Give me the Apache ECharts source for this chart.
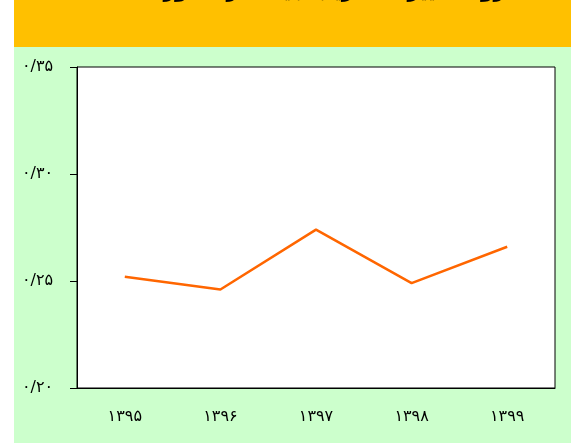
<!DOCTYPE html>
<html>
<head>
<meta charset="utf-8">
<script src="https://cdn.jsdelivr.net/npm/echarts@6/dist/echarts.min.js"></script>
<style>
  html, body { margin: 0; padding: 0; background: #fff; }
  #chart { width: 571px; height: 443px; }
</style>
</head>
<body>
<div id="chart"></div>
<script>
const titleText = 'روند تغییرات ضریب جینی در کشور'
const years = ['۱۳۹۵', '۱۳۹۶', '۱۳۹۷', '۱۳۹۸', '۱۳۹۹']
const values = [0.252, 0.246, 0.274, 0.249, 0.266]
const yTicks = [0.20, 0.25, 0.30, 0.35]
const yTickLabels = ['۰/۲۰', '۰/۲۵', '۰/۳۰', '۰/۳۵']

const chart = echarts.init(document.getElementById('chart'))

const labelFont = { fontFamily: 'DejaVu Sans', fontSize: 16, color: '#000' }

chart.setOption({
  animation: false,
  backgroundColor: '#ccffcc',
  graphic: [
    { type: 'rect', shape: { x: 0, y: 0, width: 14, height: 443 }, style: { fill: '#fff' } },
    { type: 'rect', shape: { x: 14, y: 0, width: 557, height: 47 }, style: { fill: '#ffc000' } },
    {
      type: 'text',
      x: 505,
      y: -8,
      style: {
        text: titleText,
        fill: '#000',
        font: 'bold 20px "DejaVu Sans"',
        textAlign: 'right',
        textVerticalAlign: 'middle'
      }
    }
  ],
  grid: {
    left: 77, top: 67, width: 478, height: 321,
    show: true, backgroundColor: '#fff', borderColor: '#000', borderWidth: 1
  },
  xAxis: {
    type: 'category',
    data: years,
    boundaryGap: true,
    axisLine: { lineStyle: { color: '#000', width: 1 } },
    axisTick: { length: 7, lineStyle: { color: '#000' } },
    axisLabel: { ...labelFont, margin: 21 }
  },
  yAxis: {
    type: 'value',
    min: yTicks[0],
    max: yTicks[yTicks.length - 1],
    interval: 0.05,
    splitLine: { show: false },
    axisLine: { show: true, lineStyle: { color: '#000', width: 1 } },
    axisTick: { show: true, length: 7, lineStyle: { color: '#000' } },
    axisLabel: {
      ...labelFont,
      align: 'left',
      margin: 55,
      formatter: (v) => {
        const i = yTicks.findIndex(t => Math.abs(t - v) < 1e-6)
        return i >= 0 ? yTickLabels[i] : ''
      }
    }
  },
  series: [{
    type: 'line',
    data: values,
    symbol: 'none',
    lineStyle: { color: '#ff6600', width: 2.5 }
  }]
})
</script>
</body>
</html>
